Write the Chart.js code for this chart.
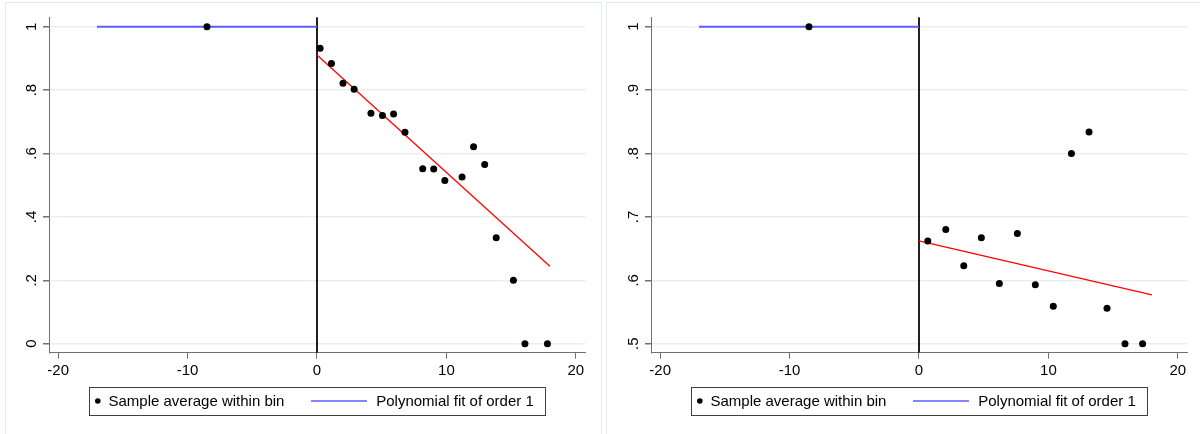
<!DOCTYPE html>
<html><head><meta charset="utf-8">
<script src="https://cdn.jsdelivr.net/npm/chart.js@4"></script>
<style>
html,body{margin:0;padding:0;background:#fff;}
body{width:1200px;height:434px;position:relative;overflow:hidden;}
.panel{position:absolute;top:2px;height:440px;border:1px solid #e4ecef;box-sizing:border-box;}
.wrap{position:absolute;top:0;width:600px;height:434px;}
canvas{display:block;}
</style></head><body>
<div class="panel" style="left:5px;width:597px"></div>
<div class="panel" style="left:606px;width:600px"></div>
<div class="wrap" style="left:0"><canvas id="c1" width="600" height="434"></canvas></div>
<div class="wrap" style="left:600px"><canvas id="c2" width="600" height="434"></canvas></div>
<script>
// ---- data ----
const xTicks = [-20, -10, 0, 10, 20];
const xTickLabels = ["-20", "-10", "0", "10", "20"];

// Left panel
const binXLeft = [-8.5, 0.24, 1.12, 2.01, 2.87, 4.17, 5.06, 5.92, 6.80, 8.17, 9.02, 9.88, 11.21, 12.10, 12.96, 13.85, 15.18, 16.07, 17.81];
const binYLeft = [1.0, 0.932, 0.884, 0.822, 0.803, 0.727, 0.720, 0.725, 0.667, 0.552, 0.551, 0.515, 0.526, 0.621, 0.565, 0.334, 0.200, 0, 0];
const fitLowXLeft = [-17, 0];
const fitLowYLeft = [1, 1];
const fitHighXLeft = [0, 18];
const fitHighYLeft = [0.911, 0.244];
const yTicksLeft = [0, 0.2, 0.4, 0.6, 0.8, 1];
const yTickLabelsLeft = ["0", ".2", ".4", ".6", ".8", "1"];
const yRangeLeft = [-0.0284, 1.0297];

// Right panel
const binXRight = [-8.5, 0.68, 2.07, 3.46, 4.82, 6.21, 7.60, 8.99, 10.38, 11.78, 13.14, 14.53, 15.92, 17.28];
const binYRight = [1.0, 0.662, 0.680, 0.623, 0.667, 0.595, 0.674, 0.593, 0.559, 0.800, 0.834, 0.556, 0.5, 0.5];
const fitLowXRight = [-17, 0];
const fitLowYRight = [1, 1];
const fitHighXRight = [0, 18];
const fitHighYRight = [0.662, 0.577];
const yTicksRight = [0.5, 0.6, 0.7, 0.8, 0.9, 1];
const yTickLabelsRight = [".5", ".6", ".7", ".8", ".9", "1"];
const yRangeRight = [0.4858, 1.0148];

const xRange = [-20.71, 20.75];
const cutoffX = 0;

const FONT = '"Liberation Sans", Arial, sans-serif';
const AXIS_GRAY = '#707070';

function zip(xs, ys){ return xs.map((x,i)=>({x:x, y:ys[i]})); }

const stataLegend = {
  id: 'stataLegend',
  afterDraw(chart){
    const ctx = chart.ctx, a = chart.chartArea;
    const ds = chart.data.datasets;
    const x0 = Math.round(a.left + 39.8), y0 = 387, w = 456, h = 28;
    ctx.save();
    ctx.strokeStyle = '#404040'; ctx.lineWidth = 1;
    ctx.strokeRect(x0 + 0.5, y0 + 0.5, w, h);
    const cy = y0 + 15;
    ctx.fillStyle = ds[0].pointBackgroundColor;
    ctx.beginPath(); ctx.arc(x0 + 8.8, cy - 1, 2.8, 0, Math.PI*2); ctx.fill();
    ctx.font = '15px ' + FONT; ctx.fillStyle = '#000'; ctx.textBaseline = 'middle'; ctx.textAlign = 'left';
    ctx.fillText(ds[0].label, x0 + 19.5, cy);
    ctx.strokeStyle = ds[1].borderColor; ctx.lineWidth = 1.3;
    ctx.beginPath(); ctx.moveTo(x0 + 222, cy - 1); ctx.lineTo(x0 + 278, cy - 1); ctx.stroke();
    ctx.fillText(ds[1].label, x0 + 287.2, cy);
    ctx.restore();
  }
};

function makeChart(id, p){
  return new Chart(document.getElementById(id), {
    type: 'scatter',
    data: { datasets: [
      { label: 'Sample average within bin', data: zip(p.binX, p.binY), pointRadius: 3.5, pointHoverRadius: 3.5,
        pointBackgroundColor: '#000000', pointBorderWidth: 0, showLine: false },
      { label: 'Polynomial fit of order 1', data: zip(p.lowX, p.lowY), showLine: true, borderColor: '#5c5cff',
        borderWidth: 2, pointRadius: 0 },
      { label: 'fit right', data: zip(p.highX, p.highY), showLine: true, borderColor: '#ff0000',
        borderWidth: 1.3, pointRadius: 0 },
      { label: 'cutoff', data: [{x: cutoffX, y: p.yRange[1]}, {x: cutoffX, y: p.yRange[0]}], showLine: true,
        borderColor: '#000000', borderWidth: 1, pointRadius: 0 }
    ]},
    options: {
      responsive: false, animation: false, events: [],
      layout: { padding: { left: 0, right: p.padRight, top: 17.3, bottom: 51.3 } },
      plugins: { legend: { display: false }, tooltip: { enabled: false } },
      scales: {
        x: {
          type: 'linear', min: xRange[0], max: xRange[1],
          afterBuildTicks: s => { s.ticks = xTicks.map(v => ({value: v})); },
          afterFit: s => { s.height = 30; },
          grid: { drawOnChartArea: false, drawTicks: true, tickLength: 6, tickColor: AXIS_GRAY, lineWidth: 1 },
          border: { color: AXIS_GRAY, width: 1 },
          ticks: { font: { family: FONT, size: 15 }, color: '#000', padding: 3, maxRotation: 0, minRotation: 0,
                   autoSkip: false, callback: (v, i) => xTickLabels[i] }
        },
        y: {
          type: 'linear', min: p.yRange[0], max: p.yRange[1],
          afterBuildTicks: s => { s.ticks = p.yTicks.map(v => ({value: v})); },
          afterFit: s => { s.width = p.axisLeft; },
          grid: { color: '#e8eff0', tickColor: AXIS_GRAY, tickLength: 6, lineWidth: 1.5 },
          border: { color: AXIS_GRAY, width: 1 },
          ticks: { font: { family: FONT, size: 15 }, color: '#000', padding: 5, minRotation: 90, maxRotation: 90,
                   crossAlign: 'center', autoSkip: false, callback: (v, i) => p.yLabels[i] }
        }
      }
    },
    plugins: [stataLegend]
  });
}

makeChart('c1', { binX: binXLeft, binY: binYLeft, lowX: fitLowXLeft, lowY: fitLowYLeft, highX: fitHighXLeft,
  highY: fitHighYLeft, yTicks: yTicksLeft, yLabels: yTickLabelsLeft, yRange: yRangeLeft, axisLeft: 49, padRight: 14.5 });
makeChart('c2', { binX: binXRight, binY: binYRight, lowX: fitLowXRight, lowY: fitLowYRight, highX: fitHighXRight,
  highY: fitHighYRight, yTicks: yTicksRight, yLabels: yTickLabelsRight, yRange: yRangeRight, axisLeft: 51, padRight: 12.5 });
</script>
</body></html>
